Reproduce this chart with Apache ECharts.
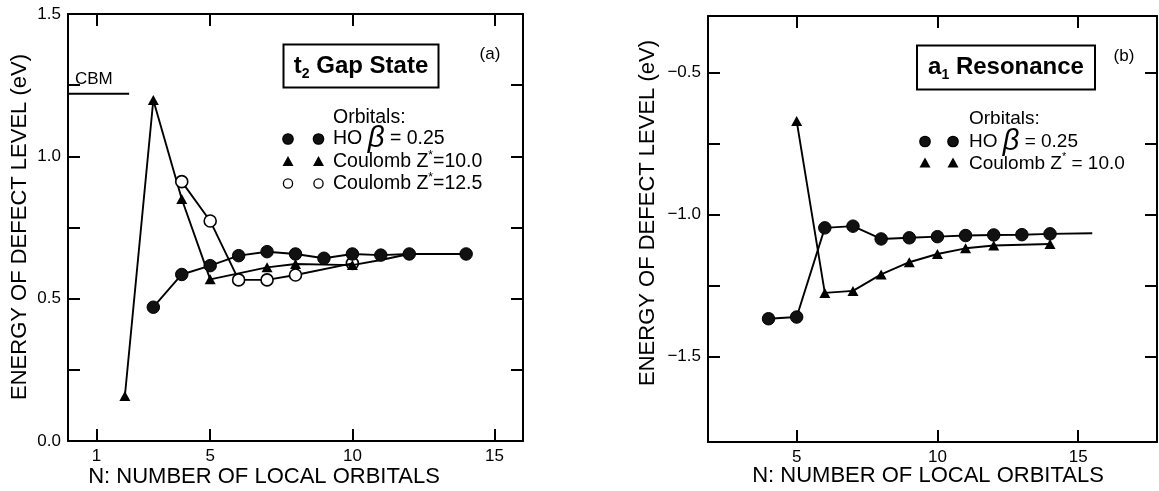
<!DOCTYPE html>
<html>
<head>
<meta charset="utf-8">
<script src="https://cdn.jsdelivr.net/npm/echarts@6/dist/echarts.min.js"></script>
<style>
html,body{margin:0;padding:0;background:#fff;}
#chart{width:1159px;height:491px;}
</style>
</head>
<body>
<div id="chart"></div>
<script>
// ---------- data ----------
// Panel (a): t2 gap state
const aHO_N    = [3, 4, 5, 6, 7, 8, 9, 10, 11, 12, 14];
const aHO_E    = [0.47, 0.585, 0.616, 0.651, 0.665, 0.657, 0.642, 0.657, 0.653, 0.657, 0.657];
const aC10_N   = [2, 3, 4, 5, 7, 8, 10, 11, 12];
const aC10_E   = [0.158, 1.198, 0.85, 0.568, 0.61, 0.622, 0.618, 0.636, 0.657];
const aC10_lastMarkedN = 10;
const aC125_N  = [4, 5, 6, 7, 8, 10];
const aC125_E  = [0.911, 0.773, 0.566, 0.566, 0.583, 0.624];
const aCBM_N   = [0, 2.15];
const aCBM_E   = 1.22;
const aXRange  = [0, 16];
const aYRange  = [0, 1.5];
const aXTicks  = [1, 5, 10, 15];
const aYTicks  = [0.25, 0.5, 0.75, 1.0, 1.25];
const aYLabels = [0, 0.5, 1.0, 1.5];

// Panel (b): a1 resonance
const bHO_N    = [4, 5, 6, 7, 8, 9, 10, 11, 12, 13, 14, 15.5];
const bHO_E    = [-1.366, -1.36, -1.046, -1.04, -1.085, -1.081, -1.077, -1.073, -1.071, -1.07, -1.067, -1.065];
const bHO_lastMarkedN = 14;
const bC10_N   = [5, 6, 7, 8, 9, 10, 11, 12, 14];
const bC10_E   = [-0.67, -1.275, -1.268, -1.21, -1.167, -1.138, -1.118, -1.108, -1.103];
const bXRange  = [1.85, 17.8];
const bYRange  = [-1.8, -0.3];
const bXTicks  = [5, 10, 15];
const bYTicks  = [-0.5, -0.75, -1.0, -1.25, -1.5];
const bYLabels = [-0.5, -1.0, -1.5];

// ---------- helpers ----------
const FONT = '"Liberation Sans", Arial, Helvetica, sans-serif';
const pairs = (xs, ys) => xs.map((x, i) => [x, ys[i]]);
const BLACK = '#000';

function xAxes(grid, range, ticks, fmt) {
  const base = {
    gridIndex: grid, type: 'value', min: range[0], max: range[1],
    axisLine: { show: true, onZero: false, lineStyle: { color: BLACK, width: 2 } },
    axisTick: { show: true, inside: true, length: 12, customValues: ticks, lineStyle: { color: BLACK, width: 2 } },
    splitLine: { show: false }
  };
  return [
    Object.assign({}, base, { position: 'bottom',
      axisLabel: { show: true, customValues: ticks, color: BLACK, fontSize: 17, fontFamily: FONT, margin: 7, formatter: fmt } }),
    Object.assign({}, base, { position: 'top', axisLabel: { show: false } })
  ];
}
function yAxes(grid, range, ticks, labels, fmt) {
  const base = {
    gridIndex: grid, type: 'value', min: range[0], max: range[1],
    axisLine: { show: true, onZero: false, lineStyle: { color: BLACK, width: 2 } },
    axisTick: { show: true, inside: true, length: 12, customValues: ticks, lineStyle: { color: BLACK, width: 2 } },
    splitLine: { show: false }
  };
  return [
    Object.assign({}, base, { position: 'left',
      axisLabel: { show: true, customValues: labels, color: BLACK, fontSize: 17, fontFamily: FONT, margin: 7, formatter: fmt } }),
    Object.assign({}, base, { position: 'right', axisLabel: { show: false } })
  ];
}

const lineStyle = { color: BLACK, width: 1.9 };
const filledCircle = { color: '#111', borderColor: BLACK, borderWidth: 1 };
const triangle = { color: BLACK };

const series = [
  // (a) CBM
  { type: 'line', xAxisIndex: 0, yAxisIndex: 0, data: aCBM_N.map(n => [n, aCBM_E]),
    symbol: 'none', lineStyle: { color: BLACK, width: 2 }, silent: true, animation: false },
  // (a) Coulomb Z*=10.0
  { type: 'line', xAxisIndex: 0, yAxisIndex: 0, data: pairs(aC10_N, aC10_E),
    symbol: (v) => v[0] > aC10_lastMarkedN ? 'none' : 'triangle', symbolSize: [11, 10],
    showAllSymbol: true, itemStyle: triangle, lineStyle: lineStyle, animation: false },
  // (a) Coulomb Z*=12.5
  { type: 'line', xAxisIndex: 0, yAxisIndex: 0, data: pairs(aC125_N, aC125_E),
    symbol: 'circle', symbolSize: 12, showAllSymbol: true,
    itemStyle: { color: (p) => (p.value[0] === 10 ? 'rgba(255,255,255,0)' : '#fff'), borderColor: BLACK, borderWidth: 1.6 },
    lineStyle: lineStyle, animation: false },
  // (a) HO beta = 0.25
  { type: 'line', xAxisIndex: 0, yAxisIndex: 0, data: pairs(aHO_N, aHO_E),
    symbol: 'circle', symbolSize: 12.5, showAllSymbol: true, itemStyle: filledCircle, lineStyle: lineStyle, animation: false },

  // (b) Coulomb Z*=10.0
  { type: 'line', xAxisIndex: 2, yAxisIndex: 2, data: pairs(bC10_N, bC10_E),
    symbol: 'triangle', symbolSize: [11, 10], showAllSymbol: true, itemStyle: triangle, lineStyle: lineStyle, animation: false },
  // (b) HO beta = 0.25
  { type: 'line', xAxisIndex: 2, yAxisIndex: 2, data: pairs(bHO_N, bHO_E),
    symbol: (v) => v[0] > bHO_lastMarkedN ? 'none' : 'circle', symbolSize: 12.5, showAllSymbol: true,
    itemStyle: filledCircle, lineStyle: lineStyle, animation: false }
];

// ---------- annotation graphics ----------
function txt(x, y, text, size, opts) {
  opts = opts || {};
  return {
    type: 'text', x: x, y: y, rotation: opts.rotation || 0, z: 100,
    style: Object.assign({
      text: text, fill: BLACK, fontSize: size, fontFamily: FONT,
      fontWeight: opts.weight || 'normal',
      textAlign: opts.align || 'left', align: opts.align || 'left',
      textVerticalAlign: 'middle', verticalAlign: 'middle'
    }, opts.rich ? { rich: opts.rich } : {})
  };
}
function dot(cx, cy, r, fill) {
  return { type: 'circle', z: 100, shape: { cx: cx, cy: cy, r: r }, style: { fill: fill, stroke: BLACK, lineWidth: 1.3 } };
}
function tri(cx, cy, s) {
  return { type: 'polygon', z: 100, shape: { points: [[cx, cy - s * 0.55], [cx + s * 0.55, cy + s * 0.45], [cx - s * 0.55, cy + s * 0.45]] }, style: { fill: BLACK } };
}
const legRich = (size) => ({
  a: { fontSize: size, fontFamily: FONT, fill: BLACK, color: BLACK, lineHeight: size + 6, verticalAlign: 'middle' },
  b: { fontSize: size + 10, fontFamily: FONT, fontStyle: 'italic', fill: BLACK, color: BLACK, lineHeight: size + 6, verticalAlign: 'middle' },
  s: { fontSize: Math.round(size * 0.6), fontFamily: FONT, fill: BLACK, color: BLACK, lineHeight: Math.round(size * 0.6) + 2, verticalAlign: 'top' }
});
const titleRich = {
  b: { fontSize: 24, fontWeight: 'bold', fontFamily: FONT, fill: BLACK, color: BLACK, lineHeight: 30, verticalAlign: 'middle' },
  s: { fontSize: 14, fontWeight: 'bold', fontFamily: FONT, fill: BLACK, color: BLACK, lineHeight: 15, verticalAlign: 'bottom' }
};

const graphic = [
  // axis titles
  txt(20, 227, 'ENERGY OF DEFECT LEVEL (eV)', 22, { align: 'center', rotation: Math.PI / 2 }),
  txt(264, 477, 'N: NUMBER OF LOCAL ORBITALS', 22, { align: 'center' }),
  txt(648, 213, 'ENERGY OF DEFECT LEVEL (eV)', 22, { align: 'center', rotation: Math.PI / 2 }),
  txt(928, 476, 'N: NUMBER OF LOCAL ORBITALS', 22, { align: 'center' }),
  // (a) annotations
  txt(75, 79, 'CBM', 17),
  txt(490, 54, '(a)', 17, { align: 'center' }),
  { type: 'rect', z: 99, shape: { x: 283.5, y: 44.5, width: 155, height: 43 }, style: { fill: '#fff', stroke: BLACK, lineWidth: 2 } },
  txt(361, 66, '{b|t}{s|2}{b| Gap State}', 24, { align: 'center', rich: titleRich }),
  txt(333, 118, 'Orbitals:', 19.5),
  dot(288, 139, 5.2, '#111'), dot(318.5, 139, 5.2, '#111'),
  txt(333, 139, '{a|HO }{b|\u03B2}{a| = 0.25}', 19.5, { rich: legRich(19.5) }),
  tri(288, 161.5, 10), tri(318.5, 161.5, 10),
  txt(333, 162, '{a|Coulomb Z}{s|*}{a|=10.0}', 19.5, { rich: legRich(19.5) }),
  dot(288, 183.5, 4.6, '#fff'), dot(318.5, 183.5, 4.6, '#fff'),
  txt(333, 184, '{a|Coulomb Z}{s|*}{a|=12.5}', 19.5, { rich: legRich(19.5) }),
  // (b) annotations
  txt(1124, 56, '(b)', 17, { align: 'center' }),
  { type: 'rect', z: 99, shape: { x: 917, y: 45.5, width: 178, height: 44 }, style: { fill: '#fff', stroke: BLACK, lineWidth: 2 } },
  txt(1006, 67.5, '{b|a}{s|1}{b| Resonance}', 24, { align: 'center', rich: titleRich }),
  txt(969, 119, 'Orbitals:', 19),
  dot(925, 141.5, 5.2, '#111'), dot(953, 141.5, 5.2, '#111'),
  txt(969, 141.5, '{a|HO }{b|\u03B2}{a| = 0.25}', 19, { rich: legRich(19) }),
  tri(925, 163, 10), tri(953, 163, 10),
  txt(969, 163.5, '{a|Coulomb Z}{s|*}{a| = 10.0}', 19, { rich: legRich(19) })
];

const intFmt = (v) => String(Math.round(v));
const decFmt = (v) => v.toFixed(1);
const negFmt = (v) => (v < 0 ? '\u2212' : '') + Math.abs(v).toFixed(1);

const option = {
  backgroundColor: '#fff',
  animation: false,
  grid: [
    { left: 68, top: 14, width: 455, height: 427, containLabel: false },
    { left: 708, top: 16, width: 449, height: 426, containLabel: false }
  ],
  xAxis: [].concat(xAxes(0, aXRange, aXTicks, intFmt), xAxes(1, bXRange, bXTicks, intFmt)),
  yAxis: [].concat(yAxes(0, aYRange, aYTicks, aYLabels, decFmt), yAxes(1, bYRange, bYTicks, bYLabels, negFmt)),
  series: series,
  graphic: graphic
};

const chart = echarts.init(document.getElementById('chart'), null, { renderer: 'canvas' });
chart.setOption(option);
</script>
</body>
</html>
